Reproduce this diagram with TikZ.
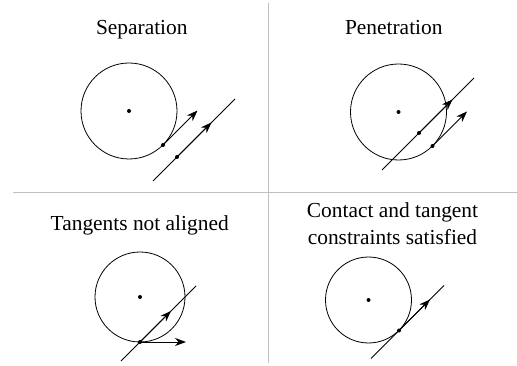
\documentclass[tikz,border=0pt]{standalone}
\usepackage{fontspec}
\setmainfont{Liberation Serif}
\usetikzlibrary{arrows.meta}

\begin{document}
\begin{tikzpicture}[x=1pt, y=-1pt,
        title/.style={font=\fontsize{21.4}{27.3}\selectfont, align=center, anchor=base, inner sep=0pt},
        divider/.style={draw=black!25, line width=1.3pt},
        outline/.style={line width=0.8pt},
        vec/.style={-{Stealth[length=11pt,width=8pt]}, line width=0.8pt},
        contactdot/.style={radius=2pt}]
        \useasboundingbox (0,0) rectangle (517,366);

        % Draw the dividers
        \draw[divider] (13,192.5) -- (517,192.5);
        \draw[divider] (268.5,3) -- (268.5,363);

        % Separation
        \node[title] (tsep) at (141.8,35) {Separation};
        \coordinate (c1) at (129,111);
        \coordinate (p1) at (163,145);
        \coordinate (q1) at (197.5,110.5);
        \coordinate (l1a) at (153,181);
        \coordinate (l1b) at (235,99);
        \coordinate (d1) at (177,157);
        \coordinate (e1) at (211.5,122.5);
        \draw[outline] (c1) circle[radius=48pt];
        \draw[outline] (l1a) -- (l1b);
        \draw[vec] (p1) -- (q1);
        \draw[vec] (d1) -- (e1);
        \fill (c1) circle[contactdot];
        \fill (p1) circle[contactdot];
        \fill (d1) circle[contactdot];

        % Penetration
        \node[title] (tpen) at (393.8,35) {Penetration};
        \coordinate (c2) at (398.5,112);
        \coordinate (p2) at (432.5,146);
        \coordinate (q2) at (467,111.5);
        \coordinate (l2a) at (382,170);
        \coordinate (l2b) at (474,78);
        \coordinate (d2) at (419,133);
        \coordinate (e2) at (452.5,99.5);
        \draw[outline] (c2) circle[radius=48pt];
        \draw[outline] (l2a) -- (l2b);
        \draw[vec] (p2) -- (q2);
        \draw[vec] (d2) -- (e2);
        \fill (c2) circle[contactdot];
        \fill (p2) circle[contactdot];
        \fill (d2) circle[contactdot];

        % Tangents not aligned
        \node[title] (ttan) at (139.7,231) {Tangents not aligned};
        \coordinate (c3) at (140,297);
        \coordinate (p3) at (140,342);
        \coordinate (q3) at (186,342);
        \coordinate (l3a) at (121,361);
        \coordinate (l3b) at (196,286);
        \coordinate (e3) at (171,311);
        \draw[outline] (c3) circle[radius=45pt];
        \draw[outline] (l3a) -- (l3b);
        \draw[vec] (p3) -- (q3);
        \draw[vec] (p3) -- (e3);
        \fill (c3) circle[contactdot];
        \fill (p3) circle[contactdot];

        % Contact and tangent constraints satisfied
        \node[title] (tsat) at (392.5,245) {Contact and tangent\\constraints satisfied};
        \coordinate (c4) at (368.5,300);
        \coordinate (p4) at (399,330.5);
        \coordinate (q4) at (430,299.5);
        \coordinate (l4a) at (371,358.5);
        \coordinate (l4b) at (444,285.5);
        \draw[outline] (c4) circle[radius=43pt];
        \draw[outline] (l4a) -- (l4b);
        \draw[vec] (p4) -- (q4);
        \fill (c4) circle[contactdot];
        \fill (p4) circle[contactdot];

\end{tikzpicture}
\end{document}
